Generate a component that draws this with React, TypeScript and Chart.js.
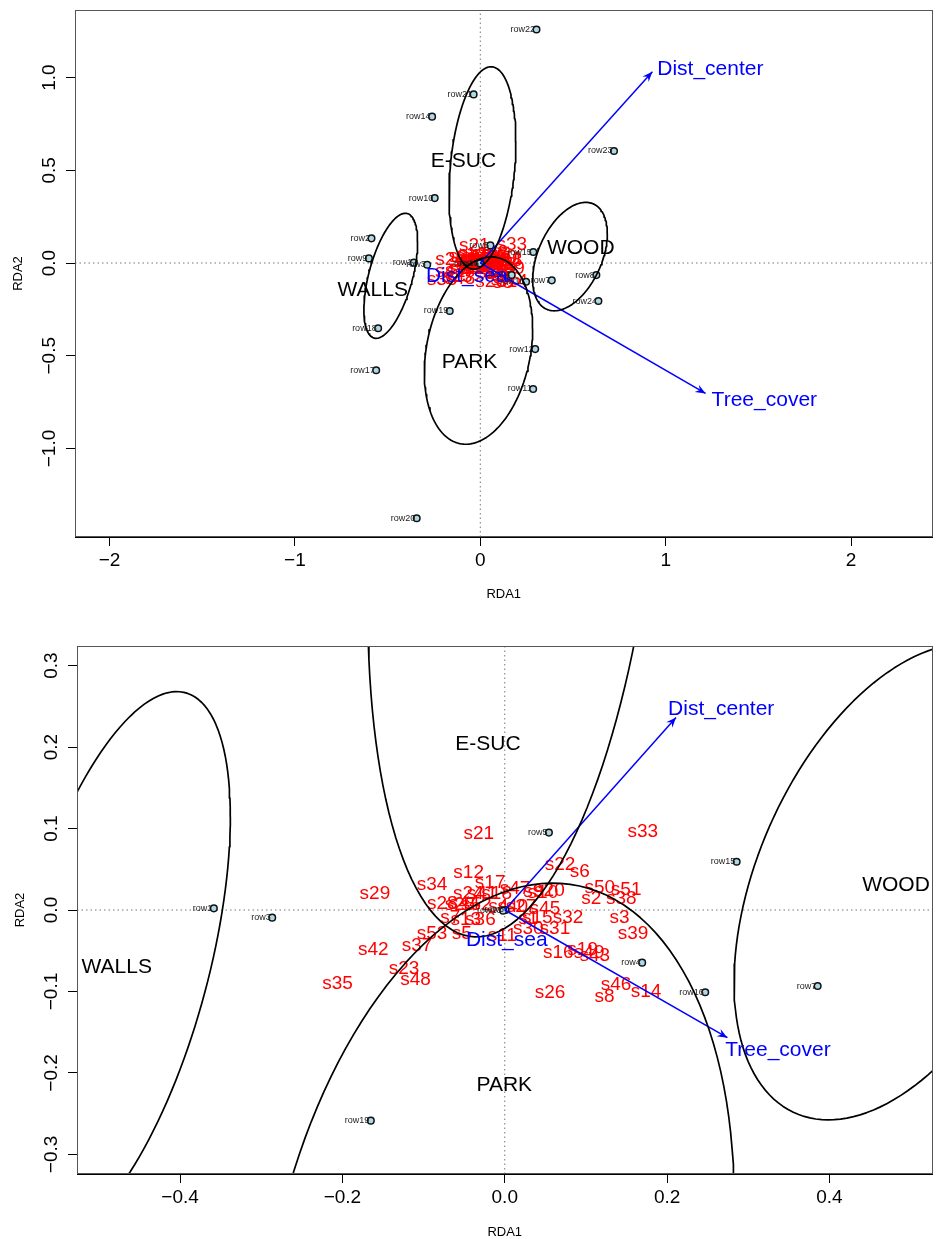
import React, { useEffect, useRef } from 'react';
import { Chart, registerables } from 'chart.js';

Chart.register(...registerables);

const FONT = '"Liberation Sans", Arial, Helvetica, sans-serif';

// ---- site scores (rows) ----
const rowNames = ['row1','row2','row3','row4','row5','row6','row7','row8','row9','row10','row11','row12','row13','row14','row15','row16','row17','row18','row19','row20','row21','row22','row23','row24'];
const rowX = [-0.3584,-0.587,-0.2865,0.1693,0.0544,0.001,0.3855,0.626,-0.601,-0.246,0.285,0.296,-0.002,-0.26,0.2857,0.247,-0.5615,-0.551,-0.165,-0.343,-0.036,0.303,0.721,0.637];
const rowY = [0.002,0.133,-0.0094,-0.0646,0.095,0.0,-0.0933,-0.065,0.025,0.35,-0.679,-0.464,-0.001,0.789,0.0593,-0.101,-0.578,-0.352,-0.2585,-1.376,0.909,1.259,0.604,-0.205];

// ---- species scores ----
const speciesNames = ['s1','s2','s3','s4','s5','s6','s7','s8','s9','s10','s11','s12','s13','s14','s15','s16','s17','s18','s19','s20','s21','s22','s23','s24','s25','s26','s27','s28','s29','s30','s31','s32','s33','s34','s35','s36','s37','s38','s39','s40','s41','s42','s43','s44','s45','s46','s47','s48','s49','s50','s51','s52','s53'];
const speciesX = [0.029,0.1067,0.1415,-0.008,-0.053,0.0925,-0.067,0.123,0.035,0.047,-0.003,-0.0445,-0.048,0.174,0.04,0.066,-0.018,-0.01,0.096,0.055,-0.032,0.068,-0.124,-0.045,-0.055,0.0557,0.02,-0.077,-0.16,0.029,0.0618,0.078,0.17,-0.0895,-0.206,-0.03,-0.108,0.1435,0.158,0.01,-0.028,-0.162,0.111,-0.05,0.0495,0.137,0.0127,-0.11,0.104,0.117,0.1496,-0.035,-0.0895];
const speciesY = [-0.0102,0.0143,-0.01,0.004,-0.029,0.047,-0.01,-0.106,0.022,0.021,-0.032,0.046,-0.012,-0.1,-0.01,-0.053,0.033,0.02,-0.049,0.023,0.094,0.055,-0.0716,0.02,0.006,-0.1015,0.004,0.008,0.02,-0.0225,-0.0225,-0.01,0.096,0.0315,-0.091,-0.012,-0.044,0.0135,-0.0286,0.004,0.02,-0.049,-0.056,0.008,0.002,-0.092,0.0266,-0.086,-0.052,0.0278,0.0245,0.006,-0.0286];

// ---- group ellipses (centre + dispersion matrix) ----
const groupNames = ['E-SUC','WOOD','WALLS','PARK'];
const ellipseCX = [0.0115, 0.4838, -0.483, -0.0097];
const ellipseCY = [0.5125, 0.0347, -0.069, -0.472];
const ellipseSXX = [0.0325, 0.04052, 0.021, 0.0853];
const ellipseSXY = [0.0253, 0.0249, 0.0266, 0.0347];
const ellipseSYY = [0.2976, 0.08544, 0.1136, 0.255];
const groupLabelXTop = [-0.0905, 0.542, -0.58, -0.058];
const groupLabelYTop = [0.5515, 0.079, -0.146, -0.537];
const groupLabelXBottom = [-0.0206, 0.482, -0.478, -0.0006];
const groupLabelYBottom = [0.2037, 0.0307, -0.0696, -0.2147];

// ---- environmental vectors ----
const envNames = ['Dist_center', 'Tree_cover', 'Dist_sea'];
const arrowTipXTop = [0.928, 1.215];
const arrowTipYTop = [1.031, -0.703];
const arrowTipXBottom = [0.211, 0.2743];
const arrowTipYBottom = [0.2364, -0.1567];
const envLabelXTop = [1.241, 1.532, -0.073];
const envLabelYTop = [1.046, -0.739, -0.07];
const envLabelXBottom = [0.2667, 0.3366, 0.0025];
const envLabelYBottom = [0.2466, -0.1718, -0.0368];

// ---- axes ----
const topXRange = [-2.186, 2.439];
const topYRange = [-1.477, 1.364];
const topXTicks = [-2, -1, 0, 1, 2];
const topXTickLabels = ['\u22122', '\u22121', '0', '1', '2'];
const topYTicks = [-1, -0.5, 0, 0.5, 1];
const topYTickLabels = ['\u22121.0', '\u22120.5', '0.0', '0.5', '1.0'];
const bottomXRange = [-0.527, 0.527];
const bottomYRange = [-0.324, 0.324];
const bottomXTicks = [-0.4, -0.2, 0, 0.2, 0.4];
const bottomXTickLabels = ['\u22120.4', '\u22120.2', '0.0', '0.2', '0.4'];
const bottomYTicks = [-0.3, -0.2, -0.1, 0, 0.1, 0.2, 0.3];
const bottomYTickLabels = ['\u22120.3', '\u22120.2', '\u22120.1', '0.0', '0.1', '0.2', '0.3'];

type Spec = {
  height: number; padTop: number; padRight: number; yAxisWidth: number; xAxisHeight: number;
  xRange: number[]; yRange: number[];
  xTicks: number[]; xTickLabels: string[]; yTicks: number[]; yTickLabels: string[];
  xTickPad: number; yTickPad: number; xTitlePad: number; yTitlePad: number;
  tipX: number[]; tipY: number[]; envLX: number[]; envLY: number[];
  grpLX: number[]; grpLY: number[];
};

const topSpec: Spec = {
  height: 620, padTop: 10, padRight: 4, yAxisWidth: 75, xAxisHeight: 83,
  xRange: topXRange, yRange: topYRange,
  xTicks: topXTicks, xTickLabels: topXTickLabels, yTicks: topYTicks, yTickLabels: topYTickLabels,
  xTickPad: 3, yTickPad: -2.5, xTitlePad: 19, yTitlePad: 12,
  tipX: arrowTipXTop, tipY: arrowTipYTop, envLX: envLabelXTop, envLY: envLabelYTop,
  grpLX: groupLabelXTop, grpLY: groupLabelYTop,
};

const bottomSpec: Spec = {
  height: 619, padTop: 26, padRight: 2, yAxisWidth: 77, xAxisHeight: 65,
  xRange: bottomXRange, yRange: bottomYRange,
  xTicks: bottomXTicks, xTickLabels: bottomXTickLabels, yTicks: bottomYTicks, yTickLabels: bottomYTickLabels,
  xTickPad: 3, yTickPad: -3, xTitlePad: 0.5, yTitlePad: 13.5,
  tipX: arrowTipXBottom, tipY: arrowTipYBottom, envLX: envLabelXBottom, envLY: envLabelYBottom,
  grpLX: groupLabelXBottom, grpLY: groupLabelYBottom,
};

function ellipsePoints(i: number) {
  const l11 = Math.sqrt(ellipseSXX[i]);
  const l21 = ellipseSXY[i] / l11;
  const l22 = Math.sqrt(ellipseSYY[i] - l21 * l21);
  const pts: { x: number; y: number }[] = [];
  for (let k = 0; k <= 150; k++) {
    const t = (2 * Math.PI * k) / 150;
    pts.push({ x: ellipseCX[i] + l11 * Math.cos(t), y: ellipseCY[i] + l21 * Math.cos(t) + l22 * Math.sin(t) });
  }
  return pts;
}

function makeConfig(spec: Spec): any {
  const datasets: any[] = [];
  datasets.push({
    role: 'zero', data: [{ x: spec.xRange[0], y: 0 }, { x: spec.xRange[1], y: 0 }],
    showLine: true, pointRadius: 0, borderColor: '#777', borderWidth: 1, borderDash: [1.5, 3], order: 10,
  });
  datasets.push({
    role: 'zero', data: [{ x: 0, y: spec.yRange[0] }, { x: 0, y: spec.yRange[1] }],
    showLine: true, pointRadius: 0, borderColor: '#777', borderWidth: 1, borderDash: [1.5, 3], order: 10,
  });
  datasets.push({
    role: 'sites', data: rowX.map((x, i) => ({ x, y: rowY[i] })),
    pointRadius: 3.3, pointBorderWidth: 1.5, borderColor: '#000', backgroundColor: '#ADD8E6',
    pointBackgroundColor: '#ADD8E6', pointBorderColor: '#111', order: 5,
  });
  spec.tipX.forEach((tx, i) => {
    datasets.push({
      role: 'arrow', data: [{ x: 0, y: 0 }, { x: tx, y: spec.tipY[i] }],
      showLine: true, pointRadius: 0, borderColor: '#0000FF', borderWidth: 1.5, order: 3,
    });
  });
  groupNames.forEach((_, i) => {
    datasets.push({
      role: 'ellipse', data: ellipsePoints(i),
      showLine: true, pointRadius: 0, borderColor: '#000', borderWidth: 1.7, tension: 0,
      borderJoinStyle: 'round', borderCapStyle: 'round', order: 1,
    });
  });

  const labelPlugin = {
    id: 'rdaLabels',
    beforeDatasetDraw(chart: any, args: any) {
      const ds = chart.data.datasets[args.index];
      if (ds.role !== 'sites') return;
      const { ctx, chartArea: a, scales } = chart;
      ctx.save();
      ctx.beginPath();
      ctx.rect(a.left, a.top, a.right - a.left, a.bottom - a.top);
      ctx.clip();
      ctx.fillStyle = '#FF0000';
      ctx.font = `19px ${FONT}`;
      ctx.textAlign = 'center';
      ctx.textBaseline = 'middle';
      speciesNames.forEach((n, i) => {
        ctx.fillText(n, scales.x.getPixelForValue(speciesX[i]), scales.y.getPixelForValue(speciesY[i]));
      });
      ctx.restore();
    },
    afterDatasetDraw(chart: any, args: any) {
      const ds = chart.data.datasets[args.index];
      if (ds.role !== 'sites') return;
      const { ctx, chartArea: a } = chart;
      const meta = chart.getDatasetMeta(args.index);
      ctx.save();
      ctx.beginPath();
      ctx.rect(a.left, a.top, a.right - a.left, a.bottom - a.top);
      ctx.clip();
      ctx.fillStyle = '#222';
      ctx.font = `9px ${FONT}`;
      ctx.textAlign = 'right';
      ctx.textBaseline = 'middle';
      rowNames.forEach((n, i) => {
        const p = meta.data[i];
        ctx.fillText(n, p.x - 1.5, p.y);
      });
      ctx.restore();
    },
    afterDatasetsDraw(chart: any) {
      const { ctx, chartArea: a, scales } = chart;
      ctx.save();
      ctx.beginPath();
      ctx.rect(a.left, a.top, a.right - a.left, a.bottom - a.top);
      ctx.clip();
      chart.data.datasets.forEach((ds: any, idx: number) => {
        if (ds.role !== 'arrow') return;
        const meta = chart.getDatasetMeta(idx);
        const p0 = meta.data[0];
        const p1 = meta.data[1];
        const ang = Math.atan2(p1.y - p0.y, p1.x - p0.x);
        const L = 11;
        const w = (22 * Math.PI) / 180;
        ctx.fillStyle = '#0000FF';
        ctx.beginPath();
        ctx.moveTo(p1.x, p1.y);
        ctx.lineTo(p1.x - L * Math.cos(ang - w), p1.y - L * Math.sin(ang - w));
        ctx.lineTo(p1.x - L * 0.6 * Math.cos(ang), p1.y - L * 0.6 * Math.sin(ang));
        ctx.lineTo(p1.x - L * Math.cos(ang + w), p1.y - L * Math.sin(ang + w));
        ctx.closePath();
        ctx.fill();
      });
      ctx.fillStyle = '#0000FF';
      ctx.font = `21px ${FONT}`;
      ctx.textAlign = 'center';
      ctx.textBaseline = 'middle';
      envNames.forEach((n, i) => {
        ctx.fillText(n, scales.x.getPixelForValue(spec.envLX[i]), scales.y.getPixelForValue(spec.envLY[i]));
      });
      ctx.fillStyle = '#000';
      ctx.font = `21px ${FONT}`;
      groupNames.forEach((n, i) => {
        ctx.fillText(n, scales.x.getPixelForValue(spec.grpLX[i]), scales.y.getPixelForValue(spec.grpLY[i]));
      });
      ctx.restore();
      ctx.save();
      ctx.strokeStyle = '#555';
      ctx.lineWidth = 1;
      ctx.strokeRect(Math.round(a.left) + 0.5, Math.round(a.top) + 0.5, Math.round(a.right - a.left) - 1, Math.round(a.bottom - a.top) - 1);
      ctx.restore();
    },
  };

  return {
    type: 'scatter',
    data: { datasets },
    options: {
      animation: false,
      responsive: false,
      maintainAspectRatio: false,
      events: [],
      layout: { padding: { top: spec.padTop, right: spec.padRight, left: 0, bottom: 0 } },
      plugins: { legend: { display: false }, tooltip: { enabled: false } },
      scales: {
        x: {
          type: 'linear', position: 'bottom', min: spec.xRange[0], max: spec.xRange[1],
          afterBuildTicks: (s: any) => { s.ticks = spec.xTicks.map((v) => ({ value: v })); },
          afterFit: (s: any) => { s.height = spec.xAxisHeight; },
          grid: { display: true, drawOnChartArea: false, drawTicks: true, tickLength: 9, tickColor: '#000', tickWidth: 1 },
          border: { display: true, color: '#000', width: 1 },
          ticks: {
            color: '#000', font: { family: FONT, size: 19 }, padding: spec.xTickPad,
            minRotation: 0, maxRotation: 0, autoSkip: false,
            callback: (v: number) => spec.xTickLabels[spec.xTicks.findIndex((t) => Math.abs(t - v) < 1e-9)],
          },
          title: {
            display: true, text: 'RDA1', color: '#000', font: { family: FONT, size: 13, lineHeight: 1 },
            padding: { top: 0, bottom: spec.xTitlePad },
          },
        },
        y: {
          type: 'linear', position: 'left', min: spec.yRange[0], max: spec.yRange[1],
          afterBuildTicks: (s: any) => { s.ticks = spec.yTicks.map((v) => ({ value: v })); },
          afterFit: (s: any) => { s.width = spec.yAxisWidth; },
          grid: { display: true, drawOnChartArea: false, drawTicks: true, tickLength: 9, tickColor: '#000', tickWidth: 1 },
          border: { display: true, color: '#000', width: 1 },
          ticks: {
            color: '#000', font: { family: FONT, size: 19, lineHeight: 1 }, padding: spec.yTickPad,
            minRotation: 90, maxRotation: 90, crossAlign: 'center', autoSkip: false,
            callback: (v: number) => spec.yTickLabels[spec.yTicks.findIndex((t) => Math.abs(t - v) < 1e-9)],
          },
          title: {
            display: true, text: 'RDA2', color: '#000', font: { family: FONT, size: 13, lineHeight: 1 },
            padding: { top: spec.yTitlePad, bottom: 0 },
          },
        },
      },
    },
    plugins: [labelPlugin],
  };
}

function RdaPlot({ spec }: { spec: Spec }) {
  const ref = useRef<HTMLCanvasElement>(null);
  useEffect(() => {
    const chart = new Chart(ref.current as HTMLCanvasElement, makeConfig(spec));
    return () => chart.destroy();
  }, [spec]);
  return (
    <canvas
      ref={ref}
      width={938}
      height={spec.height}
      style={{ display: 'block', width: 938, height: spec.height }}
    />
  );
}

export default function App() {
  return (
    <div style={{ position: 'absolute', left: 0, top: 0, width: 938, height: 1239, background: '#fff' }}>
      <RdaPlot spec={topSpec} />
      <RdaPlot spec={bottomSpec} />
    </div>
  );
}
